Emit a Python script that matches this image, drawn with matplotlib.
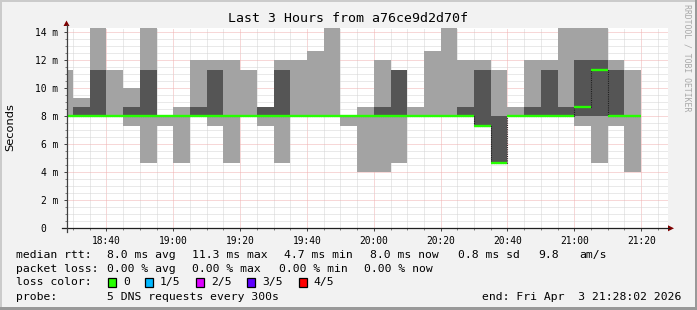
import matplotlib
matplotlib.use("Agg")
import matplotlib.pyplot as plt
import matplotlib.dates as mdates
from matplotlib.patches import Rectangle, Polygon
from matplotlib.lines import Line2D
import numpy as np
import pandas as pd

# ---------------- data ----------------
title = "Last 3 Hours from a76ce9d2d70f"
step_start = "2026-04-03 18:25"      # first 5-minute step (partly visible)
step_freq = "5min"
view_start = "2026-04-03 18:28:02"
view_end = "2026-04-03 21:28:02"

# five DNS pings per step, sorted (ms)
ping1 = [8.0, 8.0, 8.0, 8.0, 7.33, 4.67, 7.33, 4.67, 8.0, 7.33, 4.67, 8.0, 7.33, 4.67, 8.0, 8.0, 8.0, 7.33,
         4.0, 4.0, 4.67, 8.0, 8.0, 8.0, 8.0, 7.33, 4.67, 8.0, 8.0, 8.0, 8.0, 7.33, 4.67, 7.33, 4.0]
ping2 = [8.0, 8.0, 8.0, 8.0, 8.0, 8.0, 8.0, 8.0, 8.0, 8.0, 8.0, 8.0, 8.0, 8.0, 8.0, 8.0, 8.0, 8.0,
         8.0, 8.0, 8.0, 8.0, 8.0, 8.0, 8.0, 7.33, 4.67, 8.0, 8.0, 8.0, 8.0, 8.0, 8.0, 8.0, 8.0]
median = [8.0, 8.0, 8.0, 8.0, 8.0, 8.0, 8.0, 8.0, 8.0, 8.0, 8.0, 8.0, 8.0, 8.0, 8.0, 8.0, 8.0, 8.0,
          8.0, 8.0, 8.0, 8.0, 8.0, 8.0, 8.0, 7.33, 4.67, 8.0, 8.0, 8.0, 8.0, 8.67, 11.33, 8.0, 8.0]
ping4 = [8.0, 8.67, 11.33, 8.0, 8.67, 11.33, 8.0, 8.0, 8.67, 11.33, 8.0, 8.0, 8.67, 11.33, 8.0, 8.0, 8.0, 8.0,
         8.0, 8.67, 11.33, 8.0, 8.0, 8.0, 8.67, 11.33, 8.0, 8.0, 8.67, 11.33, 8.67, 12.0, 12.0, 11.33, 8.0]
ping5 = [11.33, 9.33, 14.67, 11.33, 10.0, 14.67, 8.0, 8.67, 12.0, 12.0, 12.0, 11.33, 8.67, 12.0, 12.0, 12.67, 14.67, 8.0,
         8.67, 12.0, 11.33, 8.67, 12.67, 14.67, 12.0, 12.0, 11.33, 8.67, 12.0, 12.0, 14.67, 14.67, 14.67, 12.0, 11.33]

x_tick_labels = ["18:40", "19:00", "19:20", "19:40", "20:00", "20:20", "20:40", "21:00", "21:20"]
y_tick_values = [0, 2, 4, 6, 8, 10, 12, 14]
y_tick_labels = ["0  ", "2 m", "4 m", "6 m", "8 m", "10 m", "12 m", "14 m"]

loss_labels = ["0", "1/5", "2/5", "3/5", "4/5"]
loss_colors = ["#26ff00", "#00b8ff", "#dd00ff", "#5e00ff", "#ff0000"]
packet_loss = ["0.00 % avg", "0.00 % max", "0.00 % min", "0.00 % now"]
am_per_s = "9.8"
probe_text = "5 DNS requests every 300s"
end_text = "end: Fri Apr  3 21:28:02 2026"

# ---------------- figure ----------------
W, H = 697, 310
MONO = "DejaVu Sans Mono"
fig = plt.figure(figsize=(W / 100, H / 100), dpi=100)
fig.patch.set_facecolor("#f2f2f2")


def fx(x):
    return x / W


def fy(y):
    return 1 - y / H


# border (3D shade)
fig.add_artist(Rectangle((0, fy(2)), 1, 2 / H, transform=fig.transFigure, color="#cbcbcb", lw=0))
fig.add_artist(Rectangle((0, 0), 2 / W, 1, transform=fig.transFigure, color="#cbcbcb", lw=0))
fig.add_artist(Rectangle((0, 0), 1, 3 / H, transform=fig.transFigure, color="#999999", lw=0))
fig.add_artist(Rectangle((fx(W - 2), 0), 2 / W, 1, transform=fig.transFigure, color="#999999", lw=0))

L, R, T, B = 66.5, 668.0, 28.0, 228.3
ax = fig.add_axes([fx(L), fy(B), (R - L) / W, (B - T) / H])
ax.set_facecolor("white")

edges = mdates.date2num(pd.date_range(step_start, periods=len(median) + 1, freq=step_freq).to_pydatetime())


def ext(v):
    return list(v) + [v[-1]]


ax.fill_between(edges, ext(ping1), ext(ping5), step="post", color="#a3a3a3", lw=0, zorder=2)
ax.fill_between(edges, ext(ping2), ext(ping4), step="post", color="#555555", lw=0, zorder=3)
ax.plot(edges, ext(median), drawstyle="steps-post", color="#202020", lw=0.8,
        ls=(0, (1, 1)), zorder=4)
ax.hlines(median, edges[:-1], edges[1:], color=loss_colors[0], lw=1.7, zorder=5)

ax.set_xlim(mdates.date2num(pd.Timestamp(view_start)), mdates.date2num(pd.Timestamp(view_end)))
ax.set_ylim(0, 14.3)

xt = [mdates.date2num(pd.Timestamp("2026-04-03 " + s)) for s in x_tick_labels]
ax.set_xticks(xt)
ax.set_xticklabels(x_tick_labels, fontfamily=MONO, fontsize=6.9)
ax.xaxis.set_minor_locator(mdates.MinuteLocator(byminute=range(0, 60, 5)))
ax.set_yticks(y_tick_values)
ax.set_yticklabels(y_tick_labels, fontfamily=MONO, fontsize=6.9)
ax.yaxis.set_minor_locator(matplotlib.ticker.MultipleLocator(0.5))

ax.set_axisbelow(True)
ax.grid(which="minor", color="#d4d4d4", lw=0.72, ls=(0, (1, 1)))
ax.grid(which="major", color="#f0b0b0", lw=0.72, ls=(0, (1, 1)))
ax.tick_params(axis="both", which="major", length=2.5, width=0.7, color="#404040", direction="out")
ax.tick_params(axis="both", which="minor", length=1.5, width=0.7, color="#808080", direction="out")
ax.tick_params(axis="x", which="major", pad=3)
ax.tick_params(axis="y", which="major", pad=3.5)
for s in ax.spines.values():
    s.set_visible(False)

# axes lines and arrows
fig.add_artist(Line2D([fx(62), fx(669)], [fy(B), fy(B)], transform=fig.transFigure, color="#202020", lw=0.9))
fig.add_artist(Line2D([fx(L), fx(L)], [fy(232), fy(25)], transform=fig.transFigure, color="#404040", lw=0.9))
fig.add_artist(Polygon([(fx(668), fy(B - 3)), (fx(668), fy(B + 3)), (fx(674), fy(B))],
                       closed=True, transform=fig.transFigure, color="#7f0000", lw=0))
fig.add_artist(Polygon([(fx(L - 3), fy(26)), (fx(L + 3), fy(26)), (fx(L), fy(20.5))],
                       closed=True, transform=fig.transFigure, color="#7f0000", lw=0))

# title and labels
fig.text(fx(348), fy(19), title, ha="center", va="center", fontfamily=MONO, fontsize=9.5)
fig.text(fx(10), fy(127), "Seconds", ha="center", va="center", rotation=90,
         fontfamily="DejaVu Sans", fontsize=8.2)
fig.text(fx(687), fy(4), "RRDTOOL / TOBI OETIKER", ha="center", va="top", rotation=270,
         fontfamily=MONO, fontsize=5.9, color="#a8a8a8")

# legend lines
med = np.array(median)
stats = [f"{med.mean():.1f} ms avg", f"{med.max():.1f} ms max", f"{med.min():.1f} ms min",
         f"{med[-1]:.1f} ms now", f"{med.std():.1f} ms sd"]
LFS = 8.2


def t(x, y, s, **kw):
    fig.text(fx(x), fy(y), s, ha="left", va="center", fontfamily=MONO, fontsize=LFS, **kw)


y1, y2, y3, y4 = 255, 268.5, 282.3, 296.5
t(16, y1, "median rtt:")
for xpos, s in zip([107, 192.5, 284.5, 369.5, 458], stats):
    t(xpos, y1, s)
t(538, y1, am_per_s)
t(579, y1, "am/s")

t(16, y2, "packet loss:")
for xpos, s in zip([107, 192.5, 279, 364.5], packet_loss):
    t(xpos, y2, s)

t(16, y3, "loss color:")
for bx, tx, lab, col in zip([108.4, 145.3, 196.4, 247.1, 298.7], [123, 160, 210.7, 261.8, 312.9],
                            loss_labels, loss_colors):
    fig.add_artist(Rectangle((fx(bx), fy(y3 + 4.5)), 8 / W, 9 / H, transform=fig.transFigure,
                             facecolor=col, edgecolor="black", lw=0.9))
    t(tx, y3, lab)

t(16, y4, "probe:")
t(107, y4, probe_text)
fig.text(fx(681), fy(y4), end_text, ha="right", va="center", fontfamily=MONO, fontsize=LFS)

fig.savefig("out.png", dpi=100, facecolor=fig.get_facecolor())
